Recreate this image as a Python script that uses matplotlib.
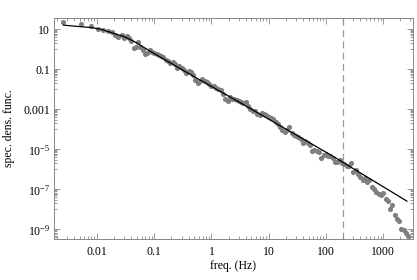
import matplotlib
matplotlib.use("Agg")
import matplotlib.pyplot as plt
from matplotlib.ticker import FixedLocator, NullFormatter

plt.rcParams["font.family"] = ["Liberation Serif", "DejaVu Serif"]
plt.rcParams["mathtext.fontset"] = "custom"
plt.rcParams["mathtext.rm"] = "Liberation Serif"
plt.rcParams["mathtext.it"] = "Liberation Serif:italic"

# measured spectrum (Hz, spectral density)
freq = [0.0026, 0.0052, 0.0078, 0.0104, 0.013, 0.0156, 0.0182, 0.021, 0.023,
        0.0275, 0.0302, 0.0331, 0.0363, 0.0398, 0.0437, 0.0479, 0.0525, 0.0575,
        0.0631, 0.0692, 0.0759, 0.0832, 0.0912,
        0.100, 0.110, 0.120, 0.132, 0.145, 0.158, 0.174, 0.191, 0.209, 0.229,
        0.251, 0.275, 0.302, 0.331, 0.363, 0.398, 0.437, 0.479, 0.525, 0.575,
        0.631, 0.692, 0.759, 0.832, 0.912,
        1.00, 1.10, 1.20, 1.32, 1.45, 1.58, 1.74, 1.91, 2.09, 2.29, 2.51, 2.75,
        3.02, 3.31, 3.63, 3.98, 4.37, 4.79, 5.25, 5.75, 6.31, 6.92, 7.59, 8.32, 9.12,
        10.0, 11.0, 12.0, 13.2, 14.5, 15.8, 17.4, 19.1, 20.9, 22.9, 25.1, 27.5,
        30.2, 33.1, 36.3, 39.8, 43.7, 47.9, 52.5, 57.5, 63.1, 69.2, 75.9, 83.2, 91.2,
        100, 110, 120, 132, 145, 158, 174, 191, 209, 229, 251, 275, 302, 331,
        363, 398, 437, 479, 525, 575, 631, 692, 759, 832, 912,
        1000, 1100, 1200, 1320, 1450, 1580, 1740, 1910, 2090, 2290, 2510, 2750]

psd = [22, 19, 14, 9.7, 8.9, 8.2, 7.3, 5.0, 4.1,
       5.0, 3.8, 4.3, 3.6, 2.5, 1.2, 1.3, 2.2, 1.35, 0.89, 0.55, 0.66, 0.93, 0.68,
       0.65, 0.56, 0.54, 0.47, 0.41, 0.30, 0.27, 0.20, 0.22, 0.18, 0.12, 0.14,
       0.11, 0.096, 0.061, 0.083, 0.071, 0.054, 0.028, 0.020, 0.027, 0.032,
       0.025, 0.022, 0.019,
       0.014, 0.015, 0.011, 0.0099, 0.0091, 0.0061, 0.0032, 0.0026, 0.0039,
       0.0034, 0.0033, 0.0029, 0.0026, 0.0024, 0.0021, 0.0024, 0.0014, 0.0010,
       8.5e-4, 7.8e-4, 5.6e-4, 4.9e-4, 6.5e-4, 5.6e-4, 5.1e-4,
       3.9e-4, 3.7e-4, 3.3e-4, 2.3e-4, 1.9e-4, 1.3e-4, 9.5e-5, 7.2e-5, 9.2e-5,
       1.25e-4, 6.5e-5, 5.4e-5, 4.8e-5, 4.1e-5, 3.3e-5, 2.1e-5, 2.6e-5, 2.1e-5,
       1.6e-5, 8.6e-6, 9.3e-6, 8.3e-6, 7.3e-6, 3.9e-6, 5.3e-6,
       6.1e-6, 4.9e-6, 4.5e-6, 3.9e-6, 2.3e-6, 2.4e-6, 2.9e-6, 2.1e-6, 1.8e-6,
       1.5e-6, 1.4e-6, 2.1e-6, 7.1e-7, 8.9e-7, 5.6e-7, 4.2e-7, 2.8e-7, 3.5e-7,
       2.4e-7, 2.8e-7, 1.26e-7, 1.0e-7, 7.1e-8, 6.0e-8, 5.0e-8,
       6.3e-8, 3.5e-8, 2.5e-8, 1.1e-8, 1.6e-8, 5.0e-9, 3.2e-9, 2.5e-9, 1.1e-9,
       8.9e-10, 6.3e-10, 5.0e-10]

# fitted model curve
fit_freq = [0.0026, 0.005, 0.008, 0.012, 0.02, 0.03, 0.046, 0.089, 0.45, 3.3, 125, 2600]
fit_psd = [15.8, 13.3, 11.9, 9.7, 6.0, 4.2, 2.3, 0.73, 0.05, 2.0e-3, 5.0e-6, 2.6e-8]

cutoff = 200  # Hz

x_ticks = [0.01, 0.1, 1, 10, 100, 1000]
x_labels = ["0.01", "0.1", "1", "10", "100", "1000"]
y_exps = [1, -1, -3, -5, -7, -9]
y_labels = ["10", "0.1", "0.001", r"$10^{-5}$", r"$10^{-7}$", r"$10^{-9}$"]

fig = plt.figure(figsize=(4.17, 2.80), dpi=100)
ax = fig.add_axes([0.130, 0.146, 0.860, 0.789])

ax.loglog(freq, psd, "o", color="#7f7f7f", markersize=3.7, markeredgewidth=0, zorder=2)
ax.loglog(fit_freq, fit_psd, color="black", linewidth=0.9, zorder=3)
ax.axvline(cutoff, color="#999999", linewidth=0.9, dashes=(5.5, 3.5), zorder=1)

ax.set_xlim(0.00179, 3300)
ax.set_ylim(3.3e-10, 35)

ax.set_xticks(x_ticks)
ax.set_xticklabels(x_labels)
x_minor = [k * 10.0 ** e for e in range(-3, 4) for k in range(2, 10)]
ax.xaxis.set_minor_locator(FixedLocator(x_minor))
ax.xaxis.set_minor_formatter(NullFormatter())

ax.set_yticks([10.0 ** e for e in y_exps])
ax.set_yticklabels(y_labels)
y_minor = [k * 10.0 ** (e - 1) for e in y_exps for k in range(1, 10)]
ax.yaxis.set_minor_locator(FixedLocator(y_minor))
ax.yaxis.set_minor_formatter(NullFormatter())

ax.tick_params(which="both", direction="in", top=True, right=True,
               color="#888888", width=0.6, labelsize=8.5)
ax.tick_params(axis="x", pad=5)
ax.tick_params(axis="y", pad=3)
ax.tick_params(which="major", length=4)
ax.tick_params(which="minor", length=2)
for s in ax.spines.values():
    s.set_color("#888888")
    s.set_linewidth(0.7)

fig.text(233 / 417, 1 - 266 / 280, "freq. (Hz)", fontsize=8.5, ha="center", va="center")
fig.text(9.5 / 417, 1 - 128 / 280, "spec. dens. func.", fontsize=8.5,
         rotation=90, ha="center", va="center")

fig.savefig("out.png", dpi=100)
